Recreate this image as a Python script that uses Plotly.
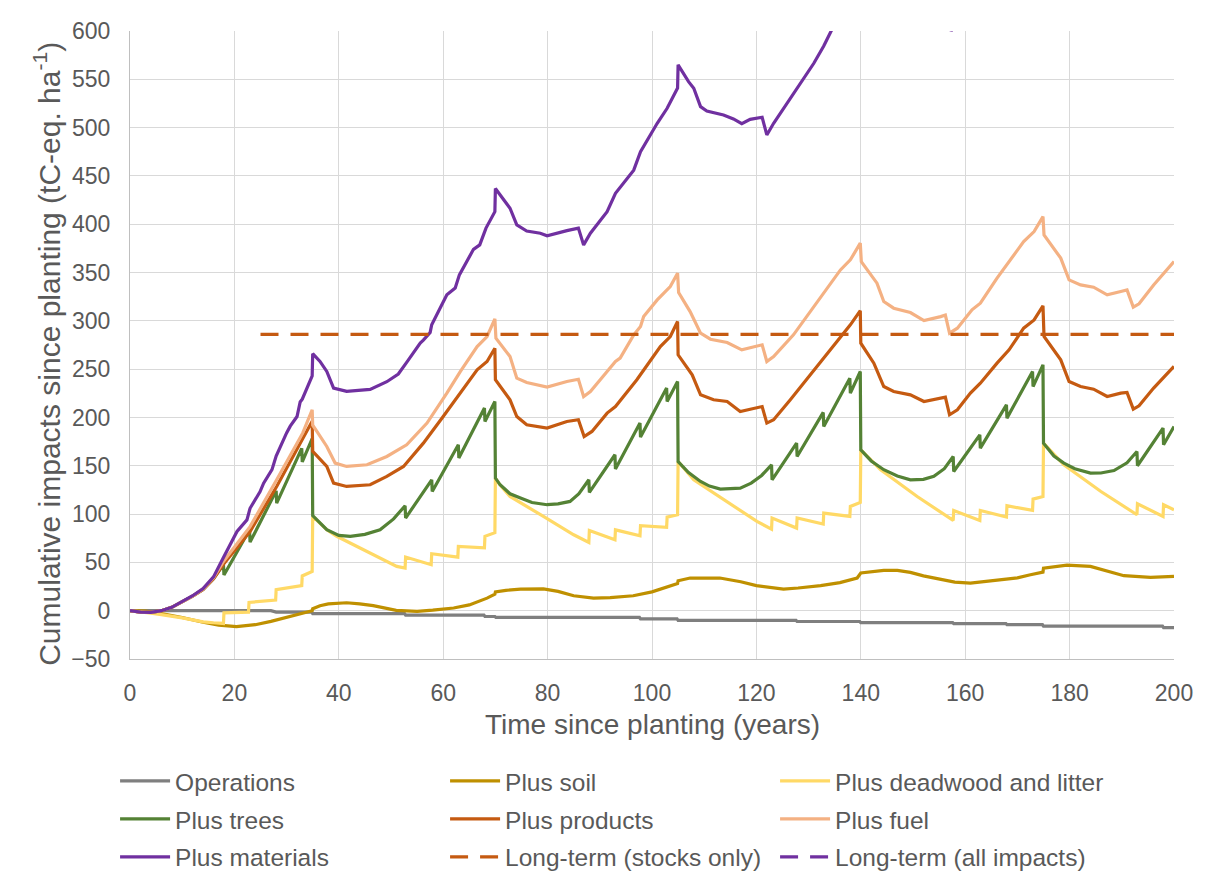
import plotly.graph_objects as go

# ---- years and cumulative impacts (tC-eq. ha-1) per series ----
ops_x = [0, 27, 28, 34.8, 35, 52.6, 52.8, 67.8, 68, 69.9, 70.1, 97.6, 97.8, 104.8, 105, 127.6, 127.8, 139.8, 140, 157.6, 157.8, 167.8, 168, 174.8, 175, 197.8, 198, 200]
ops_y = [0, 0, -1.5, -1.5, -3, -3, -4.5, -4.5, -6, -6, -7, -7, -8.5, -8.5, -10, -10, -11.2, -11.2, -12.3, -12.3, -13.4, -13.4, -14.5, -14.5, -16, -16, -17.5, -17.5]

soil_x = [0, 3, 6, 10, 14, 17, 20.4, 24, 27, 30, 33.2, 34.9, 35, 36.4, 38, 41.5, 44, 46.6, 51, 55, 58, 62, 65, 68.4, 69.9, 70, 72, 74.8, 79.2, 82, 85, 88.8, 92, 96.4, 100, 102.9, 104.9, 105, 107.3, 113, 117, 120, 125.2, 128, 132.3, 136, 139.3, 140, 144.4, 147, 149.5, 152, 155.3, 158, 161, 166.8, 170, 172.5, 174.9, 175, 179.5, 184, 187, 190.4, 195.5, 200]
soil_y = [0, -0.5, -3, -7, -12, -15, -16.5, -14.5, -11, -7, -2.4, 0, 2, 5.2, 7, 8.2, 7, 5.2, 0.3, -0.7, 0.5, 2.8, 6, 13, 17, 19.5, 21, 22.4, 22.5, 20, 15.5, 13, 13.5, 15.5, 19.5, 24.5, 28, 31, 33.8, 33.8, 30, 25.9, 22.4, 23.5, 25.9, 29, 33.8, 39, 41.7, 41.7, 39.6, 36, 32, 29.5, 28.6, 32, 34, 37.2, 40, 44, 47.2, 45.9, 41, 36.2, 34.5, 35.5]

dead_x = [0, 2, 4, 6, 8, 10, 12, 14, 16, 17.9, 18, 22.7, 22.8, 27.9, 28, 32.9, 33, 34.9, 35, 37.7, 39.6, 42.8, 47, 51.1, 52.7, 52.8, 57.7, 57.8, 62.8, 62.9, 67.9, 68, 69.9, 70, 70.9, 72.8, 79.2, 85, 87.9, 88, 92.9, 93, 97.7, 97.8, 102.8, 102.9, 104.9, 105, 108, 115.6, 120.1, 122.9, 123, 127.7, 127.8, 132.8, 132.9, 137.9, 138, 139.9, 140, 143.8, 150.8, 157.7, 157.8, 162.8, 162.9, 167.9, 168, 172.9, 173, 174.9, 175, 178.9, 186, 192.9, 193, 197.9, 198, 200]
dead_y = [0, -1, -2.5, -4, -5.5, -7.5, -9.5, -11.5, -12.5, -13.2, -2.2, -1.5, 8.6, 11, 21.7, 25.9, 36, 40.5, 97.6, 83.8, 77, 68.3, 57, 45.8, 44.1, 55.5, 47.6, 59, 55.5, 66.5, 65, 77, 80.7, 137.3, 130, 118.2, 97.6, 78.6, 70.7, 83, 73.4, 83.7, 77.6, 87.9, 86.2, 96.9, 99.3, 154.4, 135.5, 107.9, 92.4, 84.5, 95.9, 85.5, 95.9, 89.7, 101, 97.6, 107.9, 112, 166.5, 145.9, 118.2, 93.4, 103.8, 93.4, 103.8, 96.9, 108.6, 103.8, 115.5, 118.2, 173.4, 151, 123.4, 99.3, 110.7, 97.6, 109.7, 104.5]

trees_x = [0, 2, 4, 6, 8, 10, 12, 14, 16, 17.9, 18, 22.9, 23, 28, 28.1, 32.9, 33, 34.9, 35, 37.7, 40, 42.2, 45, 47.9, 50.5, 52.7, 52.8, 57.8, 57.9, 62.9, 63, 67.9, 68, 69.9, 70, 70.9, 72.8, 74.8, 77, 79.9, 82, 84.3, 86, 87.9, 88, 92.9, 93, 97.7, 97.8, 102.8, 102.9, 104.9, 105, 107, 109.3, 111, 113.1, 116.9, 119, 121, 122.9, 123, 127.7, 127.8, 132.8, 132.9, 137.9, 138, 139.9, 140, 142, 144.4, 147, 149.5, 152, 154, 156, 157.7, 157.8, 162.8, 162.9, 167.9, 168, 172.9, 173, 174.9, 175, 177, 178.9, 181, 184, 186, 188.5, 191, 192.9, 193, 197.9, 198, 200]
trees_y = [0, -1.5, -1.8, 0, 3.5, 9, 15, 22, 33, 48, 37, 83.8, 71, 124, 111.4, 168, 154, 178, 98.5, 83.8, 78, 76.9, 79, 83.8, 95, 108.6, 95.9, 135.5, 123.4, 171.7, 158, 209.7, 195.8, 216.5, 137.3, 130.3, 121, 116.6, 112, 109.7, 110.5, 113.1, 121, 135.5, 122.4, 161.4, 146.6, 194.2, 179.7, 230.4, 216.5, 237.2, 154.4, 143, 133.8, 129, 125.9, 126.9, 132, 140, 151, 135.5, 173.4, 159.6, 205.2, 190.7, 240.6, 225.2, 247.6, 166.5, 155, 145.9, 139.5, 135.5, 136, 139, 147, 159.6, 144.1, 182, 168.3, 213.1, 199.3, 247.6, 232, 254.5, 173.4, 160, 152.8, 147, 142.4, 142.5, 145, 153, 164.8, 150, 189, 171.7, 190.7]

prod_x = [0, 2, 4, 6, 8, 10, 12, 14, 16, 17.9, 23, 28.1, 33.1, 34.9, 35, 36.4, 37.7, 39, 41.5, 46, 49.2, 52.4, 56.2, 60, 63.3, 66.5, 68.4, 69.9, 70, 72.8, 74.1, 76, 79.9, 83.7, 85.9, 87, 88.5, 91.4, 93, 97.1, 101.6, 103.5, 104.9, 105, 107.7, 109.3, 111.8, 114.4, 116.9, 119.5, 121.1, 122, 123.3, 126.5, 131.6, 136.1, 138, 139.9, 140, 142.5, 144.4, 146.3, 149.5, 152.1, 154.6, 156.2, 157, 158.5, 161, 162.9, 166.1, 168.4, 171.2, 173.2, 174.9, 175.1, 178.3, 179.9, 182.1, 184.6, 187.2, 189.8, 191, 192.2, 193.3, 196.1, 200]
prod_y = [0, -1.5, -1.8, 0, 3.5, 9, 15, 22, 33, 48, 82, 128.6, 177, 196, 165, 156.2, 149.3, 132.1, 128.6, 130.3, 139, 149.3, 173.4, 201, 225.2, 249.3, 257.9, 271.7, 239, 218.3, 201, 192.4, 189, 195.8, 197.6, 180.3, 185.5, 204.5, 211.3, 239, 273.4, 283.8, 299.3, 264.8, 244.1, 223.4, 218.3, 216.5, 206.2, 209.7, 211.3, 194.2, 197.6, 218.3, 252.8, 283.8, 295.9, 310.5, 276.9, 256.2, 232, 226.9, 223.4, 216.5, 218.8, 221, 202.8, 207.9, 225.2, 235.5, 256.2, 270, 292.4, 301, 315.5, 283.8, 259.6, 237.2, 232, 229.3, 221.7, 225.2, 225.8, 208.6, 212, 230.4, 252.8]

fuel_x = [0, 2, 4, 6, 8, 10, 12, 14, 16, 17.9, 23, 28.1, 33.1, 34.9, 35, 35.8, 37.7, 39.3, 41.5, 45.4, 49.2, 53, 56.9, 60.7, 63.3, 66.5, 68.4, 69.9, 70.1, 72.8, 74.1, 76, 79.9, 83.7, 85.9, 86.9, 88.2, 91.4, 93, 93.9, 96.5, 97.8, 98.4, 101, 103.5, 104.9, 105.1, 107.3, 109.3, 111.2, 114.4, 117.2, 119.5, 121.1, 122, 123.3, 127.1, 132.3, 136.1, 138, 139.9, 140.1, 143.1, 144.4, 146.3, 149.5, 152.1, 155.3, 156.2, 157, 158.5, 161.3, 162.9, 166.1, 168, 171.2, 173.2, 174.9, 175.1, 178.3, 179.9, 182.1, 184.6, 187.2, 189.8, 191, 192.2, 193.3, 196.1, 200]
fuel_y = [0, -1.5, -1.8, 0, 3.5, 9, 15, 22.5, 34, 51, 87, 135.5, 184, 208, 192, 185.5, 170, 152.8, 149.3, 151, 159.6, 171.7, 194.2, 225.2, 247.6, 273.4, 283.8, 302, 282, 263, 240.7, 236.2, 231.4, 237.2, 239.5, 221.7, 226.9, 247.6, 257.9, 261.4, 285.5, 294.1, 304.4, 321.7, 335.5, 349.3, 329.3, 309.6, 287.3, 281, 277.6, 270, 273.5, 275.2, 257.9, 263, 285.5, 325.1, 352.7, 363.1, 380.4, 361.3, 339, 320, 313.1, 308.6, 300.3, 304.4, 306, 287.3, 292.4, 311.4, 318.3, 344.2, 357.9, 382, 392.4, 407.9, 389, 364.9, 342.4, 337.2, 334.8, 326.9, 330.4, 332, 314.2, 317.6, 337.2, 361.3]

mat_x = [0, 2, 4, 6, 8, 10, 12, 14, 16, 17.9, 20.5, 22.4, 23, 24.9, 25.6, 27.2, 28, 30, 30.7, 32, 32.6, 33, 34.5, 34.9, 35, 36.4, 37.7, 39, 41.5, 46, 49.2, 51.4, 53, 55.6, 56.2, 57.5, 57.8, 60.7, 62.3, 63.1, 65.8, 67, 68.2, 69.9, 70, 71.9, 72.8, 74.1, 76, 78.6, 79.9, 83.7, 85.9, 86.9, 88.2, 91.4, 93, 96.5, 97.8, 101, 102.9, 104.9, 105, 107, 108, 109.3, 110.5, 113.7, 115.6, 117.2, 118.8, 121.1, 122, 123.3, 125.9, 127.8, 131, 132.9, 134.5, 138, 139.9, 140, 143, 145, 150, 155, 156.5, 157.3, 158.5, 163, 168, 174.9, 175, 180, 190, 192, 200]
mat_y = [0, -1.5, -1.8, 0, 3.5, 9.5, 15.5, 23, 35, 55, 82, 94, 106, 123, 132, 146, 160, 184, 191, 201, 216, 219, 239, 243, 266, 258, 247.6, 230.4, 227, 229, 237, 245, 257, 277, 280, 288, 296, 327, 334, 347.6, 374, 378.6, 396, 413, 437, 422.4, 416.6, 399.3, 393, 390.7, 388, 393.4, 396, 378.6, 390.7, 413, 432, 456, 475, 504.5, 520, 541, 565, 547.6, 540.7, 521.7, 517.2, 513.1, 509, 504, 508.6, 510.7, 492.4, 504.5, 525, 541, 566.6, 584.5, 601, 640, 665, 690, 665, 650, 640, 635, 632, 600, 612, 660, 700, 760, 785, 740, 730, 715, 790]

lt_x = [25, 200]
lt_stocks = [286, 286]
lt_all = [680, 680]

series = [
    ("Operations", ops_x, ops_y, "#7f7f7f", "solid", "legend"),
    ("Plus soil", soil_x, soil_y, "#bf9000", "solid", "legend"),
    ("Plus deadwood and litter", dead_x, dead_y, "#ffd966", "solid", "legend"),
    ("Plus trees", trees_x, trees_y, "#548235", "solid", "legend2"),
    ("Plus products", prod_x, prod_y, "#c55a11", "solid", "legend2"),
    ("Plus fuel", fuel_x, fuel_y, "#f4b183", "solid", "legend2"),
    ("Plus materials", mat_x, mat_y, "#7030a0", "solid", "legend3"),
    ("Long-term (stocks only)", lt_x, lt_stocks, "#c55a11", "18px,12px", "legend3"),
    ("Long-term (all impacts)", lt_x, lt_all, "#7030a0", "18px,12px", "legend3"),
]

fig = go.Figure()
for name, xs, ys, color, dash, leg in series:
    fig.add_trace(go.Scatter(
        x=xs, y=ys, name=name, mode="lines", legend=leg,
        line=dict(color=color, width=3.2, dash=dash),
    ))

FONT = "Liberation Sans, Arial, sans-serif"
TXT = "#595959"
GRID = "#d9d9d9"

fig.update_layout(
    width=1210, height=876,
    margin=dict(l=130, r=36, t=31, b=217, autoexpand=False),
    paper_bgcolor="white", plot_bgcolor="white",
    font=dict(family=FONT, color=TXT),
    xaxis=dict(range=[0, 200], dtick=20, showgrid=True, gridcolor=GRID, gridwidth=1.2,
               showline=True, linecolor="#bfbfbf", linewidth=1.2, zeroline=False,
               automargin=False,
               ticks="", tickfont=dict(size=23, color=TXT), ticklabelstandoff=13),
    yaxis=dict(range=[-50, 600], dtick=50, showgrid=True, gridcolor=GRID, gridwidth=1.2,
               showline=True, linecolor="#bfbfbf", linewidth=1.2, zeroline=False,
               automargin=False,
               ticks="", tickfont=dict(size=23, color=TXT), ticklabelstandoff=14),
    showlegend=True,
)

leg_common = dict(orientation="h", x=-0.0143, xanchor="left", yanchor="middle",
                  entrywidth=265, entrywidthmode="pixels", itemwidth=50,
                  bgcolor="rgba(0,0,0,0)",
                  font=dict(size=24.5, color=TXT, family=FONT), traceorder="normal")
fig.update_layout(
    legend=dict(y=-0.1943, **leg_common),
    legend2=dict(y=-0.2548, **leg_common),
    legend3=dict(y=-0.3153, **leg_common),
)

fig.add_annotation(text="Time since planting (years)", xref="paper", yref="paper",
                   x=0.5, y=-0.105, xanchor="center", yanchor="middle", showarrow=False,
                   font=dict(size=28, color=TXT, family=FONT))
fig.add_annotation(text="Cumulative impacts since planting (tC-eq. ha<sup>-1</sup>)",
                   xref="paper", yref="paper", x=-0.0795, y=0.486, textangle=-90,
                   xanchor="center", yanchor="middle", showarrow=False,
                   font=dict(size=30, color=TXT, family=FONT))

fig.write_html("out.html")
